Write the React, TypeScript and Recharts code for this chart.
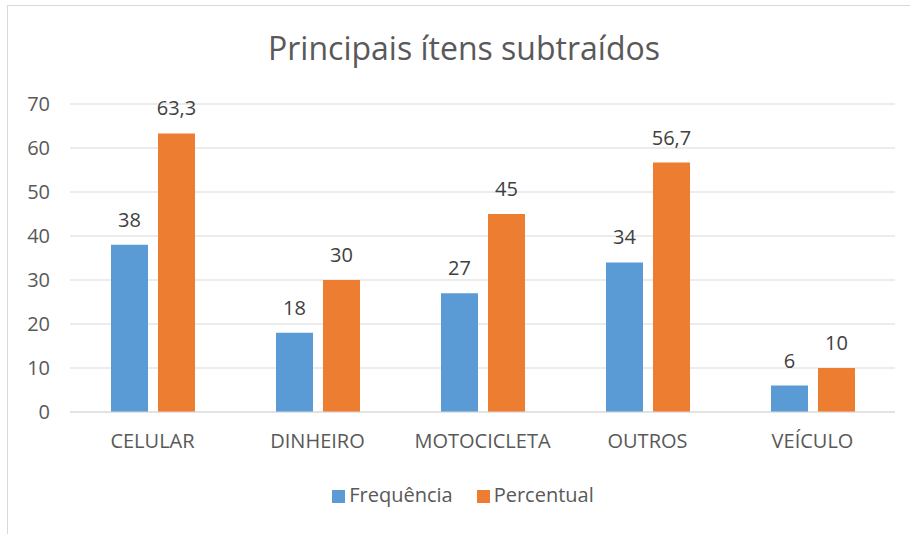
import React from "react";
import { BarChart, Bar, XAxis, YAxis, CartesianGrid, Legend, LabelList } from "recharts";

const categories = ["CELULAR", "DINHEIRO", "MOTOCICLETA", "OUTROS", "VEÍCULO"];
const frequencia = [38, 18, 27, 34, 6];
const percentual = [63.3, 30, 45, 56.7, 10];
const yTicks = [0, 10, 20, 30, 40, 50, 60, 70];

const data = categories.map((c, i) => ({ name: c, Frequência: frequencia[i], Percentual: percentual[i] }));

const FONT = "'Open Sans', 'DejaVu Sans', sans-serif";
const fmt = (v: any) => String(v).replace(".", ",");

export default function App() {
  return (
    <div style={{ position: "absolute", left: 0, top: 0, width: 910, height: 534, background: "#fff", overflow: "hidden", fontFamily: FONT }}>
      <div style={{ position: "absolute", left: 7, top: 5, width: 920, height: 540, border: "1px solid #d9d9d9" }} />
      <div style={{ position: "absolute", left: 0, top: 32, width: 928, textAlign: "center", fontSize: 32, lineHeight: "1", color: "#595959" }}>
        Principais ítens subtraídos
      </div>
      <div style={{ position: "absolute", left: 0, top: 0 }}>
        <BarChart width={910} height={534} data={data} margin={{ top: 104, right: 15, left: 0, bottom: 65 }} barGap={10} barSize={37}>
          <CartesianGrid vertical={false} stroke="#d9d9d9" />
          <XAxis dataKey="name" axisLine={{ stroke: "#d9d9d9" }} tickLine={false} height={30}
            tick={{ fill: "#595959", fontSize: 20, fontFamily: FONT }} tickMargin={16} />
          <YAxis domain={[0, 70]} ticks={yTicks} width={70} axisLine={false} tickLine={false}
            tick={{ fill: "#595959", fontSize: 20, fontFamily: FONT }} tickMargin={14} />
          <Legend verticalAlign="bottom" iconType="square" iconSize={13}
            wrapperStyle={{ top: 481, left: 0, width: 950, fontFamily: FONT, fontSize: 20 }}
            formatter={(v: any) => <span style={{ color: "#595959", marginRight: 14 }}>{v}</span>} />
          <Bar dataKey="Frequência" fill="#5b9bd5" isAnimationActive={false}>
            <LabelList dataKey="Frequência" position="top" offset={18} formatter={fmt} fill="#404040" fontSize={20} fontFamily={FONT} />
          </Bar>
          <Bar dataKey="Percentual" fill="#ed7d31" isAnimationActive={false}>
            <LabelList dataKey="Percentual" position="top" offset={18} formatter={fmt} fill="#404040" fontSize={20} fontFamily={FONT} />
          </Bar>
        </BarChart>
      </div>
    </div>
  );
}
